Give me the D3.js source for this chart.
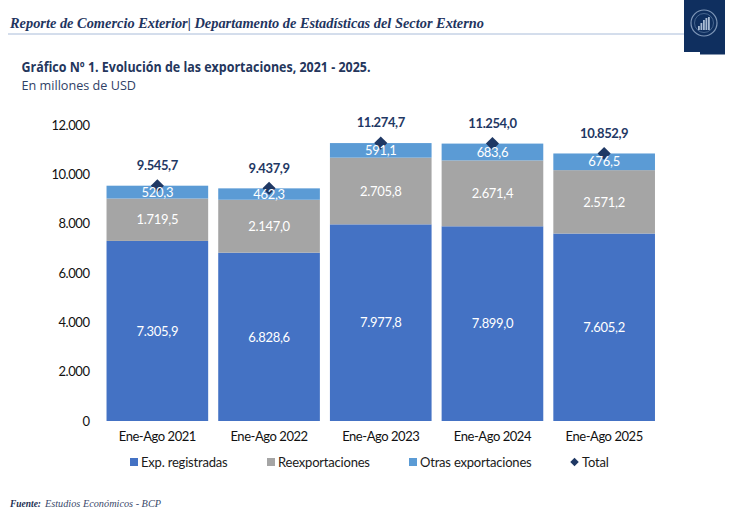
<!DOCTYPE html>
<html>
<head>
<meta charset="utf-8">
<script src="https://cdn.jsdelivr.net/npm/d3@7"></script>
<style>
  html, body { margin: 0; padding: 0; background: #fff; }
  svg { display: block; }
  .tick text { font-family: Lato, sans-serif; font-size: 13px; letter-spacing: -0.45px; fill: #111; }
</style>
</head>
<body>
<div id="root"></div>
<script>
// Chart data.
const categories = ['Ene-Ago 2021', 'Ene-Ago 2022', 'Ene-Ago 2023', 'Ene-Ago 2024', 'Ene-Ago 2025'];
const registradas = [7305.9, 6828.6, 7977.8, 7899.0, 7605.2];
const reexportaciones = [1719.5, 2147.0, 2705.8, 2671.4, 2571.2];
const otras = [520.3, 462.3, 591.1, 683.6, 676.5];
const totals = [9545.7, 9437.9, 11274.7, 11254.0, 10852.9];
const yTicks = [0, 2000, 4000, 6000, 8000, 10000, 12000];
const seriesNames = ['Exp. registradas', 'Reexportaciones', 'Otras exportaciones'];
const seriesValues = [registradas, reexportaciones, otras];
const seriesColors = ['#4472c4', '#a5a5a5', '#5b9bd5'];
const totalName = 'Total';

const width = 738;
const height = 514;
const navy = '#1f3864';

// Spanish number format: 9.545,7
const esLocale = d3.formatLocale({ decimal: ',', thousands: '.', grouping: [3], currency: ['', ''] });
const fmtLabel = esLocale.format(',.1f');
const fmtTick = esLocale.format(',d');

const svg = d3.select('#root')
  .append('svg')
  .attr('width', width)
  .attr('height', height);

// Scales.
const xScale = d3.scaleBand()
  .domain(categories)
  .range([101.5, 660])
  .paddingInner(0.09)
  .paddingOuter(0.045);

const yScale = d3.scaleLinear()
  .domain([0, 12000])
  .range([421, 125.2]);

// Page header.
svg.append('text')
  .attr('x', 10).attr('y', 28)
  .attr('font-family', '"Liberation Serif", serif')
  .attr('font-style', 'italic')
  .attr('font-weight', 'bold')
  .attr('font-size', 15.5)
  .attr('fill', '#1f3560')
  .attr('textLength', 474)
  .attr('lengthAdjust', 'spacingAndGlyphs')
  .text('Reporte de Comercio Exterior| Departamento de Estadísticas del Sector Externo');

svg.append('line')
  .attr('x1', 8).attr('x2', 684)
  .attr('y1', 34).attr('y2', 34)
  .attr('stroke', '#a9bcd9')
  .attr('stroke-width', 1);

// Logo block with seal.
const logo = svg.append('g');
logo.append('rect').attr('x', 684).attr('y', 0).attr('width', 41).attr('height', 52).attr('fill', '#0f2f5f');
logo.append('rect').attr('x', 700).attr('y', 52).attr('width', 25).attr('height', 2.5).attr('fill', '#0f2f5f');
logo.append('circle').attr('cx', 704).attr('cy', 23).attr('r', 13)
  .attr('fill', 'none').attr('stroke', '#7f97b8').attr('stroke-width', 1.2);
logo.append('circle').attr('cx', 704).attr('cy', 23).attr('r', 9.5)
  .attr('fill', 'none').attr('stroke', '#5f7ca3').attr('stroke-width', 0.7);
logo.selectAll('.seal-bar')
  .data([4, 7, 10, 12, 13])
  .enter()
  .append('rect')
  .attr('class', 'seal-bar')
  .attr('x', (d, i) => 698 + i * 2.5)
  .attr('y', d => 30 - d)
  .attr('width', 1.8)
  .attr('height', d => d)
  .attr('fill', '#a9bbd3');

// Chart title.
svg.append('text')
  .attr('x', 21.5).attr('y', 72)
  .attr('font-family', '"Open Sans", sans-serif')
  .attr('font-weight', 'bold')
  .attr('font-size', 13.5)
  .attr('fill', '#24365c')
  .attr('textLength', 349)
  .attr('lengthAdjust', 'spacingAndGlyphs')
  .text('Gráfico Nº 1. Evolución de las exportaciones, 2021 - 2025.');

svg.append('text')
  .attr('x', 21.5).attr('y', 90)
  .attr('font-family', '"Open Sans", sans-serif')
  .attr('font-size', 13.5)
  .attr('fill', '#2f4166')
  .attr('textLength', 114.5)
  .attr('lengthAdjust', 'spacingAndGlyphs')
  .text('En millones de USD');

// Axes.
const yAxis = d3.axisLeft(yScale)
  .tickValues(yTicks)
  .tickFormat(fmtTick)
  .tickSize(0)
  .tickPadding(12);

svg.append('g')
  .attr('transform', 'translate(101.5, 0)')
  .call(yAxis)
  .call(g => g.select('.domain').remove());

const xAxis = d3.axisBottom(xScale)
  .tickSize(0)
  .tickPadding(11);

svg.append('g')
  .attr('transform', 'translate(0, 421)')
  .call(xAxis)
  .call(g => g.select('.domain').remove());

// Stacked bars.
const rows = categories.map((c, i) => {
  const row = { category: c };
  seriesNames.forEach((name, s) => { row[name] = seriesValues[s][i]; });
  return row;
});
const stacked = d3.stack().keys(seriesNames)(rows);

const layers = svg.selectAll('.layer')
  .data(stacked)
  .enter()
  .append('g')
  .attr('class', 'layer');

layers.selectAll('rect')
  .data(d => d)
  .enter()
  .append('rect')
  .attr('x', d => xScale(d.data.category))
  .attr('y', d => yScale(d[1]))
  .attr('width', xScale.bandwidth())
  .attr('height', d => yScale(d[0]) - yScale(d[1]))
  .attr('fill', (d, i, nodes) => seriesColors[seriesNames.indexOf(d3.select(nodes[i].parentNode).datum().key)]);

// Total markers go under the segment labels.
const diamond = d3.symbol().type(d3.symbolDiamond2).size(110);

svg.selectAll('.total-mark')
  .data(totals)
  .enter()
  .append('path')
  .attr('class', 'total-mark')
  .attr('d', diamond)
  .attr('transform', (d, i) => `translate(${xScale(categories[i]) + xScale.bandwidth() / 2}, ${yScale(d)})`)
  .attr('fill', navy);

// Segment labels.
const labelRows = stacked.flatMap(layer => layer.map(v => ({
  y0: v[0],
  y1: v[1],
  category: v.data.category,
  value: v[1] - v[0]
})));

svg.selectAll('.segment-label')
  .data(labelRows)
  .enter()
  .append('text')
  .attr('class', 'segment-label')
  .attr('x', d => xScale(d.category) + xScale.bandwidth() / 2)
  .attr('y', d => yScale((d.y0 + d.y1) / 2))
  .attr('dy', '0.36em')
  .attr('text-anchor', 'middle')
  .attr('font-family', 'Lato, sans-serif')
  .attr('font-size', 13)
  .attr('letter-spacing', -0.3)
  .attr('fill', '#fff')
  .text(d => fmtLabel(d.value));

// Total labels.
svg.selectAll('.total-label')
  .data(totals)
  .enter()
  .append('text')
  .attr('class', 'total-label')
  .attr('x', (d, i) => xScale(categories[i]) + xScale.bandwidth() / 2)
  .attr('y', d => yScale(d) - 20.5)
  .attr('dy', '0.36em')
  .attr('text-anchor', 'middle')
  .attr('font-family', 'Lato, sans-serif')
  .attr('font-weight', 'bold')
  .attr('font-size', 13)
  .attr('letter-spacing', -0.4)
  .attr('fill', navy)
  .text(d => fmtLabel(d));

// Legend.
const legendX = [130, 267, 409];
const legend = svg.selectAll('.legend-item')
  .data(seriesNames)
  .enter()
  .append('g')
  .attr('class', 'legend-item')
  .attr('transform', (d, i) => `translate(${legendX[i]}, 458)`);

legend.append('rect')
  .attr('width', 8).attr('height', 8)
  .attr('fill', (d, i) => seriesColors[i]);

legend.append('text')
  .attr('x', 11).attr('y', 4)
  .attr('dy', '0.36em')
  .attr('font-family', 'Lato, sans-serif')
  .attr('font-size', 13)
  .attr('letter-spacing', -0.2)
  .attr('fill', '#1a1a1a')
  .text(d => d);

svg.append('path')
  .attr('d', d3.symbol().type(d3.symbolDiamond2).size(46))
  .attr('transform', 'translate(574.5, 462)')
  .attr('fill', navy);

svg.append('text')
  .attr('x', 582).attr('y', 462)
  .attr('dy', '0.36em')
  .attr('font-family', 'Lato, sans-serif')
  .attr('font-size', 13)
  .attr('letter-spacing', -0.2)
  .attr('fill', '#1a1a1a')
  .text(totalName);

// Source note.
svg.append('text')
  .attr('x', 10).attr('y', 506.7)
  .attr('font-family', '"Liberation Serif", serif')
  .attr('font-style', 'italic')
  .attr('font-weight', 'bold')
  .attr('font-size', 10.5)
  .attr('fill', '#1b2f52')
  .attr('textLength', 31)
  .attr('lengthAdjust', 'spacingAndGlyphs')
  .text('Fuente:');

svg.append('text')
  .attr('x', 45).attr('y', 506.7)
  .attr('font-family', '"Liberation Serif", serif')
  .attr('font-style', 'italic')
  .attr('font-size', 10.5)
  .attr('fill', '#3a4a6b')
  .attr('textLength', 116)
  .attr('lengthAdjust', 'spacingAndGlyphs')
  .text('Estudios Económicos - BCP');
</script>
</body>
</html>
